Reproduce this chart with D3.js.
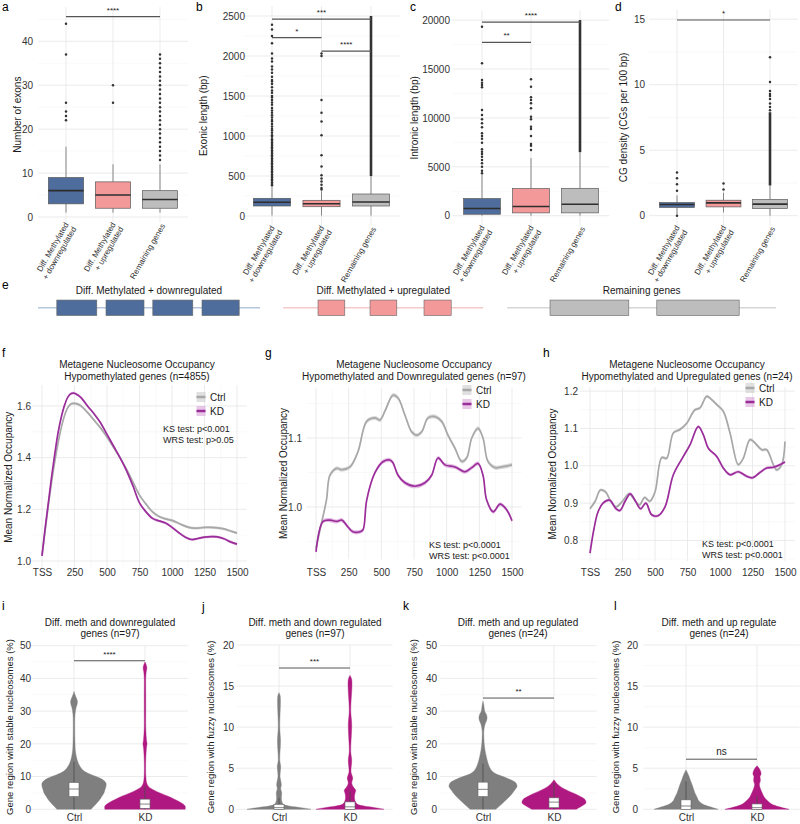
<!DOCTYPE html>
<html><head><meta charset="utf-8">
<script src="https://cdn.jsdelivr.net/npm/d3@7/dist/d3.min.js"></script>
<style>
body{margin:0;background:#fff;}
svg text{font-family:"Liberation Sans",Arial,Helvetica,sans-serif;}
</style></head>
<body><svg id="fig" width="800" height="824"></svg>
<script>
// ================= DATA =================
const boxCats = ["Diff. Methylated + downregulated","Diff. Methylated + upregulated","Remaining genes"];
const boxCatLines = [["Diff. Methylated","+ downregulated"],["Diff. Methylated","+ upregulated"],["Remaining genes"]];

// (a) number of exons : [whiskerLow, Q1, median, Q3, whiskerHigh]
const exonTicks = [0,10,20,30,40];
const exonMinor = [5,15,25,35,45];
const exonStats = [[1,3,6,9,16],[1,2,5,8,12],[1,2,4,6,12]];
const exonOutliers = [[22,23,24,26,37,44],[26,30],[13,14,15,16,17,18,19,20,21,22,23,24,25,26,27,28,29,30,31,32,33,34,35,36,37]];
const exonDense = [null,null,null];
const exonBrackets = [[0,2,45.6,"****"]];

// (b) exonic length
const exonicTicks = [0,500,1000,1500,2000,2500];
const exonicMinor = [250,750,1250,1750,2250];
const exonicStats = [[5,125,171,221,370],[5,116,154,196,310],[5,125,175,275,500]];
const exonicOutliers = [[385,400,420,440,460,480,500,520,540,560,580,600,620,640,660,680,700,720,740,760,780,800,820,840,860,880,900,920,940,960,990,1010,1040,1070,1090,1120,1150,1180,1200,1230,1260,1290,1320,1350,1390,1420,1450,1480,1500,1540,1570,1610,1650,1680,1700,1740,1790,1830,1870,1930,1970,2030,2160,2250,2330,2390],
  [330,350,390,430,470,510,620,760,1010,1180,1290,1450,2000,2030],[]];
const exonicDense = [null,null,[500,2500]];
const exonicBrackets = [[0,2,2462,"***"],[0,1,2229,"*"],[1,2,2062,"****"]];

// (c) intronic length
const intronTicks = [0,5000,10000,15000,20000];
const intronMinor = [2500,7500,12500,17500];
const intronStats = [[0,150,735,1755,4200],[0,290,940,2775,5900],[0,290,1170,2800,6500]];
const intronOutliers = [[4340,4600,5010,5360,5690,6030,6310,6540,6790,7460,7870,8150,8430,9040,9450,9860,10300,10810,13130,13360,13600,13870,15580,19330],
  [6720,7160,7330,8150,8860,9100,9860,10120,10980,11490,11830,12100,13190,13950],[]];
const intronDense = [null,null,[6500,20000]];
const intronBrackets = [[0,2,19800,"****"],[0,1,17730,"**"]];

// (d) CG density
const cgTicks = [0,5,10,15];
const cgMinor = [2.5,7.5,12.5];
const cgStats = [[0.1,0.63,0.85,1.0,1.55],[0.25,0.67,0.98,1.18,1.75],[0,0.55,0.88,1.24,2.27]];
const cgOutliers = [[0,1.9,2.4,2.85,3.3],[2.0,2.46],[8.05,8.3,8.56,8.9,9.14,9.3,9.52,10.2,12.1]];
const cgDense = [null,null,[2.3,7.9]];
const cgBrackets = [[0,2,14.94,"*"]];

// (e) gene models, schematic units 0-100
const geneModels = [
  {label:"Diff. Methylated + downregulated", span:[4.75,32.5], exons:[[7.1,12.1],[13.25,18],[19.1,24.1],[25.25,29.9]]},
  {label:"Diff. Methylated + upregulated", span:[35.4,60.4], exons:[[39.75,43.1],[46.25,49.6],[53,56.4]]},
  {label:"Remaining genes", span:[63.4,97], exons:[[68.75,78.6],[82.1,92.4]]}
];

// metagene x ticks
const metaXTicks = [0,250,500,750,1000,1250,1500];
const metaXMinor = [125,375,625,875,1125,1375];

// (f)
const fPos  = [0,25,50,75,100,125,150,175,200,225,250,275,300,350,400,450,500,550,600,650,700,750,800,850,900,950,1000,1050,1100,1150,1200,1250,1300,1350,1400,1450,1500];
const fCtrl = [1.02,1.12,1.22,1.31,1.39,1.46,1.52,1.565,1.595,1.608,1.61,1.607,1.60,1.575,1.545,1.515,1.48,1.44,1.40,1.355,1.305,1.255,1.22,1.19,1.172,1.163,1.157,1.146,1.135,1.128,1.127,1.13,1.13,1.128,1.124,1.116,1.108];
const fKD   = [1.02,1.13,1.23,1.33,1.42,1.50,1.56,1.605,1.635,1.648,1.649,1.642,1.632,1.60,1.57,1.535,1.49,1.445,1.40,1.35,1.29,1.225,1.19,1.165,1.155,1.147,1.13,1.11,1.093,1.083,1.087,1.092,1.094,1.093,1.086,1.074,1.065];
const fSE = 0.005;

// (g)
const gCtrlPos = [0,40,80,107,158,197,260,321,388,452,490,530,589,628,681,732,771,809,857,911,962,1010,1064,1115,1153,1192,1240,1278,1316,1370,1421,1500];
const gCtrl    = [0.94,0.975,1.01,1.046,1.056,1.054,1.058,1.08,1.124,1.129,1.126,1.14,1.162,1.158,1.133,1.109,1.104,1.109,1.129,1.131,1.124,1.104,1.085,1.066,1.071,1.1,1.114,1.1,1.066,1.057,1.058,1.061];
const gKDPos   = [0,54,107,158,197,245,283,337,360,388,452,515,566,589,628,681,758,834,885,934,987,1064,1140,1192,1240,1278,1306,1357,1408,1459,1500];
const gKD      = [0.935,0.979,0.981,0.979,0.981,0.971,0.964,0.964,0.967,1.01,1.05,1.066,1.068,1.064,1.046,1.035,1.03,1.035,1.046,1.071,1.061,1.058,1.051,1.057,1.063,1.046,1.01,0.993,1.004,0.996,0.98];
const gSE = 0.003;

// (h)
const hCtrlPos = [0,40,80,120,160,200,250,300,340,380,420,460,500,552,590,641,692,744,808,846,898,936,975,1025,1077,1141,1179,1231,1269,1321,1359,1410,1436,1475,1500];
const hCtrl    = [0.885,0.905,0.935,0.93,0.905,0.89,0.905,0.925,0.91,0.895,0.915,0.905,0.93,1.022,1.02,1.088,1.097,1.114,1.15,1.155,1.186,1.177,1.164,1.146,1.088,1.003,1.02,1.07,1.061,1.043,1.043,1.003,0.989,1.003,1.065];
const hKDPos   = [0,30,60,100,150,200,230,270,310,350,390,430,474,523,577,641,718,769,833,872,910,975,1025,1077,1141,1205,1250,1300,1359,1410,1462,1500];
const hKD      = [0.766,0.83,0.875,0.9,0.908,0.885,0.88,0.905,0.925,0.905,0.885,0.9,0.869,0.866,0.89,0.976,1.025,1.056,1.105,1.083,1.047,1.025,0.994,0.976,0.984,0.972,0.968,0.98,0.994,0.996,1.003,1.01];
const hSE = 0.004;

// violins: value grid + relative density (0-1)
const vCats = ["Ctrl","KD"];
const iCtrlV = [0,1,2,3,4,5,6,7,8,9,10,11,12,14,16,18,20,25,29,31,32,33,34,35,36];
const iCtrlD = [0.5,0.59,0.68,0.76,0.82,0.88,0.91,0.94,0.94,0.85,0.65,0.41,0.26,0.13,0.07,0.04,0.03,0.022,0.03,0.06,0.09,0.1,0.07,0.03,0];
const iKDV   = [0,1,2,3,4,5,6,7,8,10,15,19,20,21,25,30,35,40,42,43,44,45];
const iKDD   = [1.18,1.18,1.06,0.88,0.68,0.44,0.24,0.1,0.05,0.025,0.022,0.045,0.06,0.045,0.022,0.022,0.022,0.022,0.035,0.055,0.04,0];
const jCtrlV = [0,0.2,0.4,0.6,1,1.5,2,2.5,3,4,5.2,6,8.3,10,13.8,14.2];
const jCtrlD = [0.94,0.65,0.29,0.13,0.08,0.07,0.08,0.05,0.07,0.03,0.05,0.022,0.045,0.022,0.035,0];
const jKDV   = [0,0.2,0.4,0.6,1,1.5,2,2.3,2.7,3.2,3.8,4.5,6,7,10.3,12,15.8,16.3];
const jKDD   = [1,0.74,0.41,0.22,0.15,0.13,0.15,0.17,0.1,0.05,0.08,0.03,0.05,0.022,0.05,0.022,0.05,0];
const kCtrlV = [0,2,4,6,7,8,9,10,11,12,14,16,18,20,22,24,26,27,28,29,30,32,33];
const kCtrlD = [0.38,0.59,0.79,0.94,1,0.97,0.82,0.59,0.35,0.24,0.15,0.1,0.06,0.035,0.025,0.025,0.06,0.1,0.12,0.1,0.05,0.022,0];
const kKDV   = [0,1,2,3,4,5,6,7,8,9];
const kKDD   = [0.65,0.82,0.94,0.91,0.76,0.56,0.35,0.18,0.07,0];
const lCtrlV = [0,0.3,0.6,1,1.5,2,2.5,3,3.5,4,4.5,4.8];
const lCtrlD = [0.94,0.71,0.5,0.38,0.32,0.26,0.22,0.18,0.13,0.09,0.035,0];
const lKDV   = [0,0.3,0.6,1,1.5,2,2.5,3,3.5,4,4.3,4.7,5,5.3];
const lKDD   = [0.94,0.65,0.44,0.32,0.21,0.15,0.1,0.07,0.1,0.09,0.12,0.1,0.06,0];
// inner boxes: [whiskerLow, Q1, median, Q3, whiskerHigh]
const iBox = [[0,3.9,6.2,8.2,14.5],[0,0.3,1.6,3.1,7]];
const jBox = [[0,0,0.2,0.6,1.4],[0,0,0.3,0.9,2.2]];
const kBox = [[0,3.9,6.1,8.3,14],[0,0.5,2.2,3.5,8]];
const lBox = [[0,0,0.4,1.15,3.4],[0,0,0.2,0.65,1.6]];
const iBracket = [45.4,"****"], jBracket = [17.2,"***"], kBracket = [34,"**"], lBracket = [6.1,"ns"];

// ================= STYLE =================
const FONT='"Liberation Sans", Arial, Helvetica, sans-serif';
const C = {blue:"#4E6D9C",pink:"#F4999A",grey:"#BDBDBD",boxStroke:"#5a5a5a",median:"#2e2e2e",pt:"#333",
  grid:"#E6E6E6",gridMinor:"#F2F2F2",tick:"#333",text:"#1a1a1a",
  ctrlLine:"#A8A8A8",kdLine:"#9B2D9B",ctrlBand:"#CCCCCC",kdBand:"#D9A2D8",vCtrl:"#7F7F7F",vKD:"#AF1880",
  lineBlue:"#B4C6DC",linePink:"#F6C9C9",lineGrey:"#D6D6D6"};
const boxFill=[C.blue,C.pink,C.grey];
const geneFill=[C.blue,C.pink,C.grey];
const geneLine=[C.lineBlue,C.linePink,C.lineGrey];

const svg=d3.select("#fig");

function letter(t,x,y){svg.append("text").attr("x",x).attr("y",y).attr("font-size",12).attr("fill","#000").text(t);}
function yLab(g,t,x,yc,size){g.append("text").attr("transform",`translate(${x},${yc}) rotate(-90)`)
  .attr("text-anchor","middle").attr("dominant-baseline","central").attr("font-size",size).attr("fill",C.text).text(t);}
function hGrid(g,y,vals,x0,x1,minor){g.append("g").selectAll("line").data(vals).join("line")
  .attr("x1",x0).attr("x2",x1).attr("y1",d=>y(d)).attr("y2",d=>y(d))
  .attr("stroke",minor?C.gridMinor:C.grid).attr("stroke-width",minor?0.5:0.8);}
function vGrid(g,xf,vals,y0,y1,minor){g.append("g").selectAll("line").data(vals).join("line")
  .attr("y1",y0).attr("y2",y1).attr("x1",d=>xf(d)).attr("x2",d=>xf(d))
  .attr("stroke",minor?C.gridMinor:C.grid).attr("stroke-width",minor?0.5:0.8);}
function styleAxis(a,size){a.attr("font-family",FONT).attr("font-size",size);a.select(".domain").remove();
  a.selectAll(".tick line").remove();a.selectAll("text").attr("fill",C.tick);}
function yAxis(g,y,ticks,xPos,size,fmt){const ax=d3.axisLeft(y).tickValues(ticks).tickSize(0).tickPadding(2);
  ax.tickFormat(fmt||d3.format("d"));const a=g.append("g").attr("transform",`translate(${xPos},0)`).call(ax);styleAxis(a,size);return a;}

// ================= TOP ROW BOXPLOTS =================
function boxPanel(o){
  const g=svg.append("g");
  const x=d3.scalePoint().domain(boxCats).range(o.xr);
  const step=x.step(), bw=step*0.75;
  const y=d3.scaleLinear().domain(o.yd).range(o.yr);
  const gx0=o.xr[0]-0.6*step, gx1=o.xr[1]+0.6*step;
  hGrid(g,y,o.minor,gx0,gx1,true);
  hGrid(g,y,o.ticks,gx0,gx1,false);
  vGrid(g,x,boxCats,o.yr[0],o.yr[1],false);
  yAxis(g,y,o.ticks,o.axisX,10);
  o.stats.forEach((s,i)=>{
    const cx=x(boxCats[i]);
    g.append("line").attr("x1",cx).attr("x2",cx).attr("y1",y(s[0])).attr("y2",y(s[1])).attr("stroke",C.boxStroke).attr("stroke-width",0.7);
    g.append("line").attr("x1",cx).attr("x2",cx).attr("y1",y(s[3])).attr("y2",y(s[4])).attr("stroke",C.boxStroke).attr("stroke-width",0.7);
    g.append("rect").attr("x",cx-bw/2).attr("width",bw).attr("y",y(s[3])).attr("height",y(s[1])-y(s[3]))
      .attr("fill",boxFill[i]).attr("stroke",C.boxStroke).attr("stroke-width",0.7);
    g.append("line").attr("x1",cx-bw/2).attr("x2",cx+bw/2).attr("y1",y(s[2])).attr("y2",y(s[2])).attr("stroke",C.median).attr("stroke-width",1.6);
    if(o.dense[i]){g.append("line").attr("x1",cx).attr("x2",cx).attr("y1",y(o.dense[i][0])).attr("y2",y(o.dense[i][1])).attr("stroke",C.pt).attr("stroke-width",2.6);}
    g.append("g").selectAll("circle").data(o.outliers[i]).join("circle").attr("cx",cx).attr("cy",d=>y(d)).attr("r",1.25).attr("fill",C.pt);
  });
  o.brackets.forEach(b=>{
    const x1=x(boxCats[b[0]]),x2=x(boxCats[b[1]]),yy=y(b[2]);
    g.append("line").attr("x1",x1).attr("x2",x2).attr("y1",yy).attr("y2",yy).attr("stroke","#555").attr("stroke-width",1.2);
    g.append("text").attr("x",(x1+x2)/2).attr("y",yy-4).attr("text-anchor","middle").attr("font-size",8).attr("fill",C.text).text(b[3]);
  });
  boxCatLines.forEach((lines,i)=>{
    const t=g.append("text").attr("transform",`translate(${x(boxCats[i])+3},${o.yr[0]+2}) rotate(-60)`)
      .attr("text-anchor","end").attr("font-size",8).attr("fill",C.tick);
    lines.forEach((l,j)=>t.append("tspan").attr("x",0).attr("dy",j===0?(lines.length===1?"0.35em":"0em"):"1.1em").text(l));
  });
  yLab(g,o.ylabel,o.ylabX,(o.yr[0]+o.yr[1])/2,10);
}

boxPanel({xr:[66,160],yd:[-1.2,47.8],yr:[222.3,7],ticks:exonTicks,minor:exonMinor,stats:exonStats,outliers:exonOutliers,dense:exonDense,brackets:exonBrackets,axisX:35,ylabel:"Number of exons",ylabX:17});
boxPanel({xr:[272,371],yd:[-120,2625],yr:[225.6,6],ticks:exonicTicks,minor:exonicMinor,stats:exonicStats,outliers:exonicOutliers,dense:exonicDense,brackets:exonicBrackets,axisX:247,ylabel:"Exonic length (bp)",ylabX:203});
boxPanel({xr:[482,580],yd:[-1000,21000],yr:[225.5,10.3],ticks:intronTicks,minor:intronMinor,stats:intronStats,outliers:intronOutliers,dense:intronDense,brackets:intronBrackets,axisX:452,ylabel:"Intronic length (bp)",ylabX:414});
boxPanel({xr:[677,770],yd:[-0.75,15.75],yr:[225.5,9.4],ticks:cgTicks,minor:cgMinor,stats:cgStats,outliers:cgOutliers,dense:cgDense,brackets:cgBrackets,axisX:647,ylabel:"CG density (CGs per 100 bp)",ylabX:623});

letter("a",2,11);letter("b",196,11);letter("c",410,11);letter("d",615,11);

// ================= (e) GENE MODELS =================
(function(){
  const g=svg.append("g");
  const xs=d3.scaleLinear().domain([0,100]).range([0,800]);
  const yMid=307.8, hh=15.5;
  geneModels.forEach((m,i)=>{
    g.append("line").attr("x1",xs(m.span[0])).attr("x2",xs(m.span[1])).attr("y1",yMid).attr("y2",yMid).attr("stroke",geneLine[i]).attr("stroke-width",1.5);
    g.append("g").selectAll("rect").data(m.exons).join("rect").attr("x",d=>xs(d[0])).attr("width",d=>xs(d[1])-xs(d[0]))
      .attr("y",yMid-hh/2).attr("height",hh).attr("fill",geneFill[i]).attr("stroke","#666").attr("stroke-width",0.6);
    g.append("text").attr("x",(xs(m.span[0])+xs(m.span[1]))/2).attr("y",294).attr("text-anchor","middle")
      .attr("font-size",10).attr("fill",C.text).text(m.label);
  });
  letter("e",2,289);
})();

// ================= METAGENE PANELS =================
function metaPanel(o){
  const g=svg.append("g");
  const x=d3.scaleLinear().domain([0,1500]).range(o.xr);
  const y=d3.scaleLinear().domain(o.yd).range(o.yr);
  const px0=x(-75),px1=x(1575);
  vGrid(g,x,metaXMinor,o.yr[0],o.yr[1],true);
  vGrid(g,x,metaXTicks,o.yr[0],o.yr[1],false);
  hGrid(g,y,o.yMinor,px0,px1,true);
  hGrid(g,y,o.yTicks,px0,px1,false);
  const cur=d3.curveCatmullRom.alpha(0.5);
  const series=[{p:o.ctrlPos,v:o.ctrl,line:C.ctrlLine,band:C.ctrlBand},{p:o.kdPos,v:o.kd,line:C.kdLine,band:C.kdBand}];
  series.forEach(s=>{
    const pts=s.p.map((p,i)=>[p,s.v[i]]);
    g.append("path").datum(pts).attr("d",d3.area().x(d=>x(d[0])).y0(d=>y(d[1]-o.se)).y1(d=>y(d[1]+o.se)).curve(cur))
      .attr("fill",s.band).attr("opacity",0.7);
    g.append("path").datum(pts).attr("d",d3.line().x(d=>x(d[0])).y(d=>y(d[1])).curve(cur))
      .attr("fill","none").attr("stroke",s.line).attr("stroke-width",1.7);
  });
  yAxis(g,y,o.yTicks,o.axisX,10,d3.format(".1f"));
  const ax=d3.axisBottom(x).tickValues(metaXTicks).tickSize(0).tickPadding(2).tickFormat(d=>d===0?"TSS":d);
  const a=g.append("g").attr("transform","translate(0,567)").call(ax);styleAxis(a,10);
  [["Ctrl",C.ctrlLine,C.ctrlBand],["KD",C.kdLine,C.kdBand]].forEach((L,i)=>{
    const ly=o.legY+i*14;
    g.append("rect").attr("x",o.legX-4.5).attr("y",ly-5).attr("width",9).attr("height",10).attr("fill",L[2]).attr("opacity",0.6);
    g.append("line").attr("x1",o.legX-4.5).attr("x2",o.legX+4.5).attr("y1",ly).attr("y2",ly).attr("stroke",L[1]).attr("stroke-width",2.5);
    g.append("text").attr("x",o.legX+9).attr("y",ly+3.6).attr("font-size",10).attr("fill",C.text).text(L[0]);
  });
  o.stats.forEach((t,i)=>g.append("text").attr("x",o.statX).attr("y",o.statY+i*11).attr("font-size",9).attr("fill",C.text).text(t));
  o.title.forEach((t,i)=>g.append("text").attr("x",o.titleX).attr("y",367.5+i*12).attr("text-anchor","middle").attr("font-size",10).attr("fill",C.text).text(t));
  yLab(g,"Mean Normalized Occupancy",o.ylabX,(o.yr[0]+o.yr[1])/2,10);
}
metaPanel({xr:[42,237],yd:[0.967,1.681],yr:[569.5,385],yTicks:[1.0,1.2,1.4,1.6],yMinor:[1.1,1.3,1.5],
  ctrlPos:fPos,ctrl:fCtrl,kdPos:fPos,kd:fKD,se:fSE,axisX:33,legX:201,legY:397,statX:163,statY:431.5,
  stats:["KS test: p<0.001","WRS test: p>0.05"],title:["Metagene Nucleosome Occupancy","Hypomethylated genes (n=4855)"],titleX:137,ylabX:8});
metaPanel({xr:[316,512],yd:[0.924,1.173],yr:[559.4,387.6],yTicks:[1.0,1.1],yMinor:[0.95,1.05,1.15],
  ctrlPos:gCtrlPos,ctrl:gCtrl,kdPos:gKDPos,kd:gKD,se:gSE,axisX:304,legX:467,legY:390,statX:429,statY:548,
  stats:["KS test: p<0.0001","WRS test: p<0.0001"],title:["Metagene Nucleosome Occupancy","Hypomethylated and Downregulated genes (n=97)"],titleX:414,ylabX:283});
metaPanel({xr:[590,785],yd:[0.745,1.211],yr:[561,387],yTicks:[0.8,0.9,1.0,1.1,1.2],yMinor:[0.75,0.85,0.95,1.05,1.15],
  ctrlPos:hCtrlPos,ctrl:hCtrl,kdPos:hKDPos,kd:hKD,se:hSE,axisX:580,legX:750,legY:388,statX:702,statY:547,
  stats:["KS test: p<0.0001","WRS test: p<0.0001"],title:["Metagene Nucleosome Occupancy","Hypomethylated and Upregulated genes (n=24)"],titleX:687,ylabX:552});
letter("f",2,357);letter("g",265,357);letter("h",543,357);

// ================= VIOLINS =================
function violinPanel(o){
  const g=svg.append("g");
  const x=d3.scalePoint().domain(vCats).range(o.xr);
  const step=x.step();
  const y=d3.scaleLinear().domain(o.yd).range(o.yr);
  const w=d3.scaleLinear().domain([0,1]).range([0,34]);
  const gx0=o.xr[0]-0.6*step,gx1=o.xr[1]+0.6*step;
  hGrid(g,y,o.minor,gx0,gx1,true);
  hGrid(g,y,o.ticks,gx0,gx1,false);
  vGrid(g,x,vCats,o.yr[0],o.yr[1],false);
  yAxis(g,y,o.ticks,o.axisX,10);
  const cur=d3.curveCatmullRom.alpha(0.5);
  const sets=[[o.cV,o.cD,C.vCtrl],[o.kV,o.kD,C.vKD]];
  sets.forEach((s,i)=>{
    const cx=x(vCats[i]);
    const pts=s[0].map((v,k)=>[v,s[1][k]]);
    g.append("path").datum(pts).attr("d",d3.area().curve(cur).y(d=>y(d[0])).x0(d=>cx-w(d[1])).x1(d=>cx+w(d[1])))
      .attr("fill",s[2]).attr("stroke",s[2]).attr("stroke-width",0.4);
    const b=o.box[i], bw=10;
    g.append("line").attr("x1",cx).attr("x2",cx).attr("y1",y(b[0])).attr("y2",y(b[4])).attr("stroke","#4d4d4d").attr("stroke-width",0.8);
    g.append("rect").attr("x",cx-bw/2).attr("width",bw).attr("y",y(b[3])).attr("height",Math.max(1,y(b[1])-y(b[3])))
      .attr("fill","#fff").attr("stroke","#666").attr("stroke-width",0.6);
    g.append("line").attr("x1",cx-bw/2).attr("x2",cx+bw/2).attr("y1",y(b[2])).attr("y2",y(b[2])).attr("stroke","#666").attr("stroke-width",0.8);
  });
  const yy=y(o.bracket[0]);
  g.append("line").attr("x1",x("Ctrl")).attr("x2",x("KD")).attr("y1",yy).attr("y2",yy).attr("stroke","#555").attr("stroke-width",1);
  g.append("text").attr("x",(x("Ctrl")+x("KD"))/2).attr("y",yy-4).attr("text-anchor","middle").attr("font-size",o.bracket[1]==="ns"?10:8).attr("fill",C.text).text(o.bracket[1]);
  const ax=d3.axisBottom(x).tickSize(0).tickPadding(2);
  const a=g.append("g").attr("transform","translate(0,812)").call(ax);styleAxis(a,10);
  o.title.forEach((t,i)=>g.append("text").attr("x",o.titleX).attr("y",625.5+i*11.5).attr("text-anchor","middle").attr("font-size",10).attr("fill",C.text).text(t));
  yLab(g,o.ylabel,o.ylabX,727,9.5);
}
violinPanel({xr:[74,145],yd:[0,50],yr:[809.3,645.7],ticks:[0,10,20,30,40,50],minor:[5,15,25,35,45],
  cV:iCtrlV,cD:iCtrlD,kV:iKDV,kD:iKDD,box:iBox,bracket:iBracket,axisX:33,
  title:["Diff. meth and downregulated","genes (n=97)"],titleX:110,ylabel:"Gene region with stable nucleosomes (%)",ylabX:9});
violinPanel({xr:[279,350],yd:[0,20],yr:[809.3,645],ticks:[0,5,10,15,20],minor:[2.5,7.5,12.5,17.5],
  cV:jCtrlV,cD:jCtrlD,kV:jKDV,kD:jKDD,box:jBox,bracket:jBracket,axisX:236,
  title:["Diff. meth and down regulated","genes (n=97)"],titleX:315,ylabel:"Gene region with fuzzy nucleosomes (%)",ylabX:210});
violinPanel({xr:[483,554],yd:[0,50],yr:[809.3,645.7],ticks:[0,10,20,30,40,50],minor:[5,15,25,35,45],
  cV:kCtrlV,cD:kCtrlD,kV:kKDV,kD:kKDD,box:kBox,bracket:kBracket,axisX:439,
  title:["Diff. meth and up regulated","genes (n=24)"],titleX:518,ylabel:"Gene region with stable nucleosomes (%)",ylabX:413});
violinPanel({xr:[686,757],yd:[0,20],yr:[809.3,645],ticks:[0,5,10,15,20],minor:[2.5,7.5,12.5,17.5],
  cV:lCtrlV,cD:lCtrlD,kV:lKDV,kD:lKDD,box:lBox,bracket:lBracket,axisX:640,
  title:["Diff. meth and up regulate","genes (n=24)"],titleX:719,ylabel:"Gene region with fuzzy nucleosomes (%)",ylabX:615});
letter("i",2,610);letter("j",202,611);letter("k",403,610);letter("l",614,610);
</script></body></html>
